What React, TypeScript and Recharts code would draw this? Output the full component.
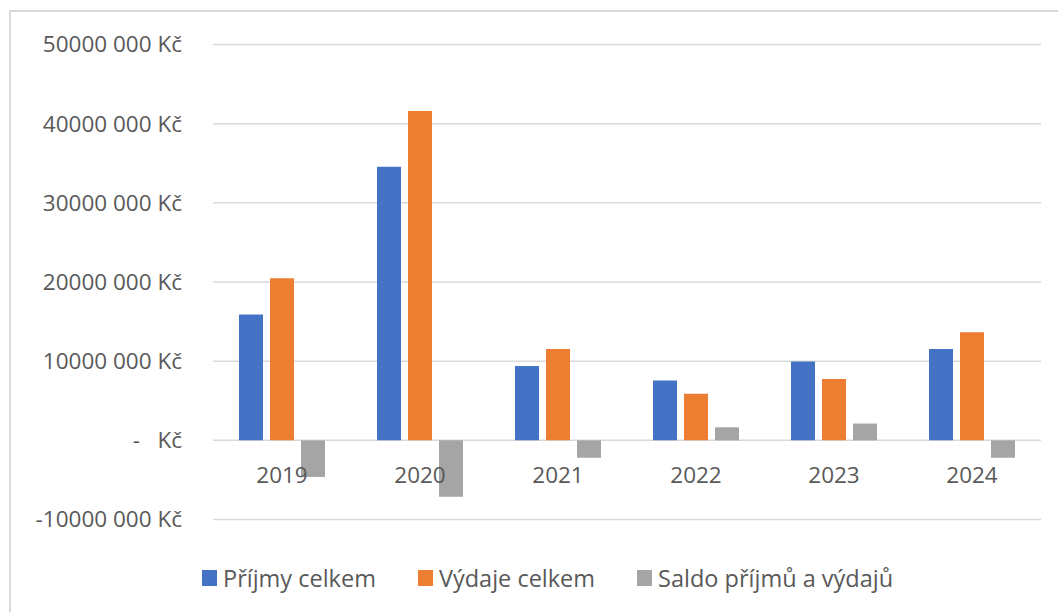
import { BarChart, Bar, XAxis, YAxis, CartesianGrid, Legend } from "recharts";

const years = ["2019", "2020", "2021", "2022", "2023", "2024"];
const prijmy = [15900000, 34550000, 9400000, 7570000, 9960000, 11530000];
const vydaje = [20460000, 41600000, 11530000, 5870000, 7740000, 13660000];
const saldo = [-4620000, -7140000, -2200000, 1650000, 2120000, -2200000];
const yTicks = [-10000000, 0, 10000000, 20000000, 30000000, 40000000, 50000000];

const SERIES = [
  { key: "prijmy", name: "Příjmy celkem", color: "#4472C4" },
  { key: "vydaje", name: "Výdaje celkem", color: "#ED7D31" },
  { key: "saldo", name: "Saldo příjmů a výdajů", color: "#A5A5A5" },
];

const data = years.map((year, i) => ({
  year,
  prijmy: prijmy[i],
  vydaje: vydaje[i],
  saldo: saldo[i],
}));

const FONT = "'Open Sans', sans-serif";
const TEXT = "#595959";
const GRID = "#d9d9d9";

const W = 1058;
const H = 612;
const PLOT_TOP = 44.5;
const PLOT_BOTTOM = 519.5;
const LEGEND_H = 30;
const X_AXIS_H = 30;
// distance from plot bottom up to the year labels (they sit just under the zero line)
const X_LABEL_LIFT = 45;

function formatCzk(v: number) {
  if (v === 0) return "-\u00a0\u00a0\u00a0Kč";
  const sign = v < 0 ? "-" : "";
  const abs = Math.abs(v);
  return `${sign}${Math.floor(abs / 1000)} ${String(abs % 1000).padStart(3, "0")} Kč`;
}

function YearTick(props: any) {
  const { x, y, payload } = props;
  return (
    <text
      x={x}
      y={y - X_LABEL_LIFT}
      textAnchor="middle"
      dominantBaseline="central"
      fill={TEXT}
      fontSize={22.5}
      fontFamily={FONT}
    >
      {payload.value}
    </text>
  );
}

// Legend is drawn in series order (recharts would sort it by name)
function LegendRow() {
  return (
    <div style={{ display: "flex", alignItems: "center", height: LEGEND_H, fontFamily: FONT, fontSize: 23.5, color: TEXT }}>
      {SERIES.map((s, i) => (
        <div key={s.key} style={{ display: "flex", alignItems: "center", marginLeft: i === 0 ? 0 : 42 }}>
          <span style={{ display: "inline-block", width: 15, height: 16, background: s.color, marginRight: 6 }} />
          <span style={{ whiteSpace: "nowrap" }}>{s.name}</span>
        </div>
      ))}
    </div>
  );
}

export default function App() {
  return (
    <div style={{ position: "relative", width: W, height: H, overflow: "hidden", background: "#fff" }}>
      <style>{"body{margin:0}"}</style>
      <div
        style={{
          position: "absolute",
          left: 9,
          top: 10,
          width: W,
          height: H,
          borderLeft: `2px solid ${GRID}`,
          borderTop: `2px solid ${GRID}`,
        }}
      />
      <div style={{ position: "absolute", left: 0, top: 0 }}>
        <BarChart
          width={W}
          height={H}
          data={data}
          barSize={24}
          barGap={7}
          margin={{ top: PLOT_TOP, right: 17, left: 0, bottom: H - PLOT_BOTTOM - LEGEND_H - X_AXIS_H }}
        >
          <CartesianGrid horizontal vertical={false} stroke={GRID} strokeWidth={1.5} />
          {SERIES.map((s) => (
            <Bar key={s.key} dataKey={s.key} name={s.name} fill={s.color} isAnimationActive={false} />
          ))}
          <YAxis
            width={213}
            domain={[-10000000, 50000000]}
            ticks={yTicks}
            tickFormatter={formatCzk}
            axisLine={false}
            tickLine={false}
            tickSize={0}
            tickMargin={31}
            tick={{ fill: TEXT, fontSize: 22.5, fontFamily: FONT }}
            interval={0}
          />
          <XAxis
            dataKey="year"
            height={X_AXIS_H}
            axisLine={false}
            tickLine={false}
            tickSize={0}
            tickMargin={0}
            tick={<YearTick />}
            interval={0}
          />
          <Legend
            content={<LegendRow />}
            wrapperStyle={{ position: "absolute", left: 202, top: 563, width: "auto", height: LEGEND_H }}
          />
        </BarChart>
      </div>
    </div>
  );
}
